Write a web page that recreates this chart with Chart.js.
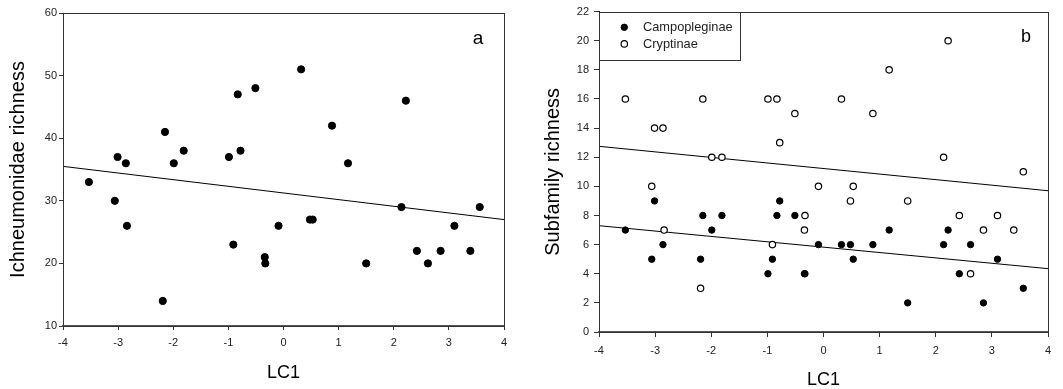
<!DOCTYPE html>
<html>
<head>
<meta charset="utf-8">
<script src="https://cdn.jsdelivr.net/npm/chart.js@4.4.1/dist/chart.umd.min.js"></script>
<style>
  body { margin: 0; background: #fff; }
  #contenedor { position: relative; width: 1063px; height: 389px; }
  .panel { position: absolute; top: 0; height: 389px; }
</style>
</head>
<body>
<div id="contenedor">
  <div class="panel" style="left:0;width:530px"><canvas id="panelA" width="530" height="389"></canvas></div>
  <div class="panel" style="left:530px;width:533px"><canvas id="panelB" width="533" height="389"></canvas></div>
</div>
<script>
// Valores de LC1 de cada sitio (eje x de ambos paneles)
const lc1 = [-3.53, -3.06, -3.01, -2.86, -2.84, -2.19, -2.15, -1.99, -1.81, -0.99, -0.91, -0.83, -0.78, -0.51, -0.34, -0.33,
             -0.09, 0.32, 0.48, 0.53, 0.88, 1.17, 1.50, 2.14, 2.22, 2.42, 2.62, 2.85, 3.10, 3.39, 3.56];
// Panel a: riqueza de Ichneumonidae
const ichneumonidae = [33, 30, 37, 36, 26, 14, 41, 36, 38, 37, 23, 47, 38, 48, 21, 20,
                       26, 51, 27, 27, 42, 36, 20, 29, 46, 22, 20, 22, 26, 22, 29];
// Panel b: riqueza por subfamilia (null = no se ve en la figura)
const campopleginae = [7, 5, 9, 6, null, 5, 8, 7, 8, 4, 5, 8, 9, 8, 4, 4,
                       6, 6, 6, 5, 6, 7, 2, 6, 7, 4, 6, 2, 5, null, 3];
const cryptinae = [16, 10, 14, 14, 7, 3, 16, 12, 12, 16, 6, 16, 13, 15, 7, 8,
                   10, 16, 9, 10, 15, 18, 9, 12, 20, 8, 4, 7, 8, 7, 11];
// Rectas de regresión (extremos)
const rectaX = [-4, 4];
const rectaIchneumonidae = [35.5, 27.0];
const rectaCampopleginae = [7.3, 4.35];
const rectaCryptinae = [12.75, 9.7];
// Marcas de los ejes
const ticksX = [-4, -3, -2, -1, 0, 1, 2, 3, 4];
const ticksYA = [10, 20, 30, 40, 50, 60];
const ticksYB = [0, 2, 4, 6, 8, 10, 12, 14, 16, 18, 20, 22];

const colorEje = '#333';
const colorTexto = '#222';
Chart.defaults.font.family = '"Liberation Sans", Arial, sans-serif';
Chart.defaults.color = colorTexto;

// Convierte dos arreglos en puntos {x, y}, omitiendo los nulos
function puntos(xs, ys) {
    return xs.map((x, i) => ({ x: x, y: ys[i] })).filter(p => p.y !== null);
}

// Plugin que dibuja el marco del área y la letra del panel
const marco = {
    id: 'marco',
    afterDraw(chart, args, opts) {
        const { ctx, chartArea: a } = chart;
        ctx.save();
        ctx.strokeStyle = colorEje;
        ctx.lineWidth = 1;
        ctx.strokeRect(Math.round(a.left) + 0.5, Math.round(a.top) + 0.5,
            Math.round(a.right - a.left), Math.round(a.bottom - a.top));
        ctx.fillStyle = '#000';
        ctx.font = opts.tam + 'px "Liberation Sans", Arial, sans-serif';
        ctx.textAlign = 'center';
        ctx.textBaseline = 'middle';
        ctx.fillText(opts.letra, a.right - opts.dx, a.top + opts.dy);
        ctx.restore();
    }
};

// Plugin para la leyenda dentro del área (panel b)
const leyenda = {
    id: 'leyenda',
    afterDraw(chart, args, opts) {
        if (!opts.mostrar) return;
        const { ctx, chartArea: a } = chart;
        ctx.save();
        ctx.strokeStyle = colorEje;
        ctx.lineWidth = 1;
        ctx.strokeRect(Math.round(a.left) + 0.5, Math.round(a.top) + 0.5, 141, 48);
        ctx.font = '12.8px "Liberation Sans", Arial, sans-serif';
        ctx.textBaseline = 'middle';
        ctx.textAlign = 'left';
        const series = chart.data.datasets.filter(d => d.enLeyenda);
        series.forEach((d, i) => {
            const y = a.top + 15.7 + i * 16.6;
            ctx.beginPath();
            ctx.arc(a.left + 25.3, y, d.pointRadius, 0, Math.PI * 2);
            ctx.fillStyle = d.backgroundColor;
            ctx.fill();
            ctx.strokeStyle = d.borderColor;
            ctx.lineWidth = d.borderWidth;
            ctx.stroke();
            ctx.fillStyle = colorTexto;
            ctx.fillText(d.label, a.left + 44, y + 0.5);
        });
        ctx.restore();
    }
};

// Opciones de escala comunes
function escala(pos, min, max, valores, ancho, tickLen, pad, titulo, tamTitulo, padTitulo) {
    return {
        type: 'linear',
        position: pos,
        min: min,
        max: max,
        afterBuildTicks: s => { s.ticks = valores.map(v => ({ value: v })); },
        afterFit: s => { if (pos === 'left') s.width = ancho; else s.height = ancho; },
        grid: { drawOnChartArea: false, drawTicks: true, tickLength: tickLen, color: colorEje },
        border: pos === 'left' ? { display: true, color: '#111', width: 1 } : { display: true, color: '#555', width: 2 },
        ticks: { font: { size: 11 }, color: colorTexto, padding: pad, maxRotation: 0, autoSkip: false },
        title: {
            display: true, text: titulo, color: '#000',
            font: { size: tamTitulo, lineHeight: 1 },
            padding: pos === 'left' ? { top: padTitulo, bottom: 0 } : { top: 0, bottom: padTitulo }
        }
    };
}

const opcionesBase = {
    responsive: false,
    animation: false,
    events: [],
    plugins: { legend: { display: false }, tooltip: { enabled: false } }
};

// Panel a
new Chart(document.getElementById('panelA'), {
    type: 'scatter',
    data: {
        datasets: [
            {
                label: 'Ichneumonidae',
                data: puntos(lc1, ichneumonidae),
                backgroundColor: '#000', borderColor: '#000', borderWidth: 1, pointRadius: 3.6, order: 0
            },
            {
                type: 'line',
                label: 'recta',
                data: puntos(rectaX, rectaIchneumonidae),
                borderColor: '#000', borderWidth: 1, pointRadius: 0, fill: false, order: 1
            }
        ]
    },
    options: {
        ...opcionesBase,
        layout: { padding: { left: 0, right: 26, top: 13, bottom: 0 } },
        scales: {
            x: escala('bottom', -4, 4, ticksX, 63, 4, 6, 'LC1', 18, 7),
            y: escala('left', 10, 60, ticksYA, 63, 4, 2, 'Ichneumonidae richness', 20, 8)
        },
        plugins: { ...opcionesBase.plugins, marco: { letra: 'a', tam: 19, dx: 26, dy: 26 }, leyenda: { mostrar: false } }
    },
    plugins: [marco, leyenda]
});

// Panel b
new Chart(document.getElementById('panelB'), {
    type: 'scatter',
    data: {
        datasets: [
            {
                label: 'Campopleginae', enLeyenda: true,
                data: puntos(lc1, campopleginae),
                backgroundColor: '#000', borderColor: '#000', borderWidth: 1, pointRadius: 3.2, order: 1
            },
            {
                label: 'Cryptinae', enLeyenda: true,
                data: puntos(lc1, cryptinae),
                backgroundColor: '#fff', borderColor: '#000', borderWidth: 1.2, pointRadius: 3.2, order: 0
            },
            {
                type: 'line', label: 'recta Campopleginae',
                data: puntos(rectaX, rectaCampopleginae),
                borderColor: '#000', borderWidth: 1, pointRadius: 0, fill: false, order: 2
            },
            {
                type: 'line', label: 'recta Cryptinae',
                data: puntos(rectaX, rectaCryptinae),
                borderColor: '#000', borderWidth: 1, pointRadius: 0, fill: false, order: 2
            }
        ]
    },
    options: {
        ...opcionesBase,
        layout: { padding: { left: 0, right: 15, top: 11, bottom: 0 } },
        scales: {
            x: escala('bottom', -4, 4, ticksX, 57, 5, 7, 'LC1', 18, 0),
            y: escala('left', 0, 22, ticksYB, 69, 5, 5, 'Subfamily richness', 20, 13)
        },
        plugins: { ...opcionesBase.plugins, marco: { letra: 'b', tam: 18, dx: 22, dy: 25 }, leyenda: { mostrar: true } }
    },
    plugins: [marco, leyenda]
});
</script>
</body>
</html>
